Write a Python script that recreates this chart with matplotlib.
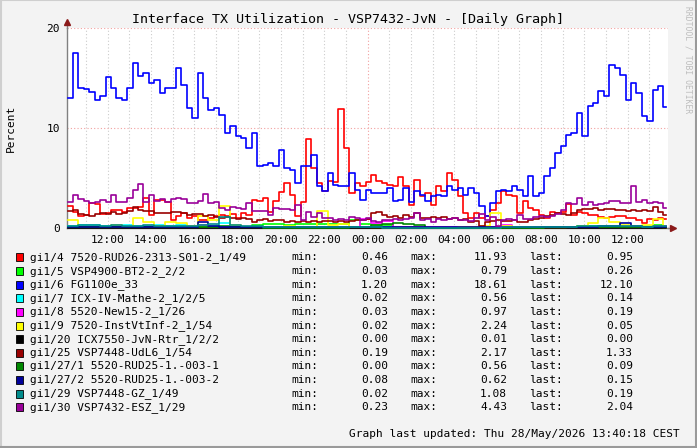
import numpy as np
import matplotlib
matplotlib.use("Agg")
import matplotlib.pyplot as plt
from matplotlib.patches import Rectangle
from matplotlib.lines import Line2D
from matplotlib.ticker import FixedLocator, FuncFormatter

W, H = 697, 448
MONO = "DejaVu Sans Mono"

# time in hours since midnight of the first day (24 = 00:00 next day)
t_start = 10.108
t_end = 37.86
t_data_end = 37.78
t15 = 10.15 + 0.25 * np.arange(111)   # 15 min samples, big series
t30 = 10.15 + 0.5 * np.arange(56)     # 30 min samples, small series

# ---- data (percent) ----
gi1_4 = [2.2, 1.6, 1.2, 1.3, 2.5, 2.4, 1.4, 1.5, 1.8, 1.8,
         1.6, 2.0, 2.0, 2.1, 3.0, 1.3, 2.8, 2.8, 2.6, 0.8,
         1.2, 1.5, 1.0, 1.2, 0.8, 0.8, 1.0, 1.2, 1.3,
         1.2, 1.4, 1.0, 1.5, 1.3, 2.8, 2.7, 3.0, 1.6, 2.7, 3.6,
         4.5, 3.3, 1.2, 2.6, 8.9, 6.0, 4.5, 3.7, 4.7, 4.6,
         11.9, 8.0, 3.5, 4.5, 4.2, 4.6, 5.3, 4.7, 4.5, 4.3,
         4.2, 5.1, 4.2, 2.3, 4.8, 3.2, 3.5, 2.3, 4.2, 3.7,
         5.5, 4.8, 3.2, 1.5, 1.0, 1.5, 1.0, 1.2, 1.8, 2.5,
         3.7, 3.3, 3.2, 1.5, 2.7, 2.0, 1.8, 1.3, 1.0, 1.6,
         1.5, 1.6, 2.4, 1.3, 1.6, 1.5, 1.3, 1.3, 1.1, 1.0,
         1.1, 1.2, 1.2, 1.0, 1.0, 0.8, 0.5, 0.9, 0.8, 1.0, 0.95]

gi1_6 = [13.0, 17.5, 14.0, 13.9, 13.6, 12.8, 13.2, 15.1, 14.0, 13.0,
         12.8, 14.0, 16.5, 15.2, 15.5, 14.5, 14.8, 13.5, 14.0, 14.0,
         16.0, 14.3, 12.0, 11.0, 15.5, 13.0, 11.8, 12.0, 11.3,
         9.5, 10.2, 9.2, 9.0, 8.0, 9.5, 6.2, 6.3, 6.5, 6.2, 7.8,
         6.0, 5.8, 4.5, 6.2, 6.2, 7.3, 4.2, 3.7, 5.5, 4.3,
         4.2, 4.2, 5.5, 3.8, 2.8, 3.8, 3.5, 3.5, 3.5, 4.0,
         2.7, 2.8, 4.0, 2.6, 3.7, 3.3, 2.7, 3.2, 3.3, 3.2,
         4.2, 3.8, 4.0, 3.3, 4.0, 3.5, 2.2, 1.2, 2.5, 3.7,
         3.8, 3.7, 4.2, 3.8, 3.2, 5.2, 3.2, 3.5, 5.2, 6.0,
         7.5, 8.2, 9.3, 9.5, 11.5, 9.2, 12.2, 12.5, 13.7, 13.2,
         16.3, 16.0, 15.3, 12.8, 14.5, 13.5, 11.2, 10.7, 13.8, 14.2, 12.1]

gi1_25 = [1.7, 1.8, 1.4, 1.3, 1.2, 1.4, 1.5, 1.4, 1.6, 1.4,
          1.5, 1.7, 2.17, 1.8, 1.7, 1.7, 1.5, 1.5, 1.5, 1.6,
          1.6, 1.5, 1.3, 1.4, 1.4, 1.2, 1.3, 1.1, 1.0,
          1.1, 1.0, 0.9, 1.0, 0.9, 0.6, 0.8, 0.9, 0.7, 0.8, 0.8,
          0.6, 0.7, 0.6, 0.7, 0.6, 0.7, 0.6, 0.7, 0.7, 0.6,
          0.7, 0.6, 0.7, 0.8, 0.8, 0.9, 1.5, 1.6, 1.3, 1.1,
          1.2, 1.0, 1.3, 1.1, 1.5, 1.0, 1.0, 1.1, 1.0, 1.1,
          0.9, 1.0, 0.8, 0.9, 0.6, 0.7, 0.2, 0.6, 0.7, 0.8,
          0.7, 0.7, 0.8, 0.6, 0.6, 0.8, 0.9, 1.0, 1.2, 1.3,
          1.5, 1.4, 1.3, 1.5, 1.8, 1.9, 1.9, 2.0, 1.8, 1.9,
          1.9, 1.8, 1.8, 1.7, 1.8, 1.7, 1.8, 1.7, 2.1, 1.6, 1.33]

gi1_30 = [2.6, 3.3, 2.9, 2.7, 2.5, 2.6, 2.8, 2.6, 3.3, 2.6,
          2.6, 3.0, 3.8, 4.43, 2.6, 3.3, 2.7, 2.9, 2.6, 2.9,
          3.0, 2.9, 2.5, 2.5, 2.7, 3.4, 2.5, 2.6, 2.0,
          1.8, 2.1, 2.0, 1.9, 2.5, 1.7, 1.7, 1.7, 1.3, 2.0, 1.9,
          1.9, 1.8, 2.3, 0.8, 1.6, 1.1, 1.5, 1.0, 1.0, 0.8,
          0.9, 0.8, 1.1, 1.0, 0.8, 1.0, 0.7, 0.6, 0.8, 0.8,
          0.9, 0.8, 0.9, 1.0, 1.5, 0.8, 0.9, 0.6, 0.9, 0.8,
          0.9, 1.0, 0.8, 0.8, 0.7, 1.0, 1.4, 0.8, 1.1, 0.25,
          0.8, 0.9, 0.8, 1.3, 0.9, 0.9, 1.1, 1.2, 1.1, 1.2,
          1.4, 1.8, 2.5, 2.4, 3.0, 2.3, 2.6, 2.3, 2.4, 2.5,
          2.7, 2.7, 2.5, 2.5, 4.2, 2.6, 2.8, 2.5, 2.6, 2.5, 2.04]

gi1_5 = [0.1, 0.1, 0.1, 0.15, 0.1, 0.1, 0.1, 0.1, 0.1, 0.1,
         0.1, 0.1, 0.1, 0.15, 0.1, 0.1, 0.1, 0.35, 0.4, 0.4,
         0.35, 0.4, 0.4, 0.45, 0.4, 0.4, 0.79, 0.4, 0.3, 0.3,
         0.1, 0.1, 0.05, 0.05, 0.05, 0.05, 0.05, 0.05, 0.05, 0.05,
         0.05, 0.1, 0.1, 0.1, 0.1, 0.15, 0.1, 0.2, 0.2, 0.2,
         0.25, 0.2, 0.2, 0.25, 0.3, 0.26]

gi1_7 = [0.2, 0.3, 0.3, 0.2, 0.2, 0.3, 0.2, 0.2, 0.3, 0.2,
         0.3, 0.2, 0.3, 0.2, 0.56, 0.2, 0.1, 0.1, 0.1, 0.1,
         0.1, 0.1, 0.1, 0.1, 0.1, 0.1, 0.1, 0.1, 0.1, 0.1,
         0.05, 0.05, 0.05, 0.05, 0.05, 0.05, 0.05, 0.05, 0.05, 0.05,
         0.05, 0.1, 0.1, 0.1, 0.1, 0.1, 0.15, 0.15, 0.2, 0.2,
         0.15, 0.2, 0.15, 0.2, 0.15, 0.14]

gi1_8 = [0.1, 0.1, 0.1, 0.1, 0.1, 0.15, 0.1, 0.1, 0.1, 0.1,
         0.1, 0.2, 0.3, 0.1, 0.1, 0.1, 0.1, 0.1, 0.1, 0.1,
         0.1, 0.1, 0.1, 0.1, 0.1, 0.1, 0.1, 0.97, 0.5, 0.7,
         0.1, 0.1, 0.1, 0.1, 0.1, 0.1, 0.1, 0.1, 0.1, 0.1,
         0.3, 0.1, 0.1, 0.1, 0.1, 0.1, 0.1, 0.1, 0.1, 0.1,
         0.15, 0.2, 0.1, 0.15, 0.2, 0.19]

gi1_9 = [0.8, 0.1, 0.1, 0.1, 0.3, 0.1, 1.0, 0.6, 0.2, 0.6,
         0.5, 0.2, 1.2, 0.8, 2.24, 0.3, 0.1, 0.1, 0.1, 0.1,
         0.2, 0.1, 0.1, 1.7, 0.3, 0.4, 0.1, 0.1, 0.05, 0.05,
         0.05, 0.05, 0.05, 0.05, 0.05, 0.05, 0.1, 0.1, 0.2, 1.5,
         0.2, 0.1, 0.1, 0.05, 0.05, 0.05, 0.1, 0.2, 0.5, 1.0,
         0.6, 0.3, 0.2, 0.3, 0.9, 0.05]

gi1_20 = [0.0, 0.0, 0.0, 0.0, 0.0, 0.0, 0.0, 0.0, 0.0, 0.0,
          0.0, 0.0, 0.01, 0.0, 0.0, 0.0, 0.0, 0.0, 0.0, 0.0,
          0.0, 0.0, 0.0, 0.0, 0.0, 0.0, 0.0, 0.0, 0.0, 0.0,
          0.0, 0.0, 0.0, 0.0, 0.0, 0.0, 0.0, 0.0, 0.0, 0.0,
          0.0, 0.0, 0.0, 0.0, 0.01, 0.0, 0.0, 0.0, 0.0, 0.0,
          0.0, 0.0, 0.0, 0.0, 0.0, 0.0]

gi1_27_1 = [0.1, 0.1, 0.15, 0.1, 0.1, 0.1, 0.1, 0.15, 0.1, 0.1,
            0.1, 0.1, 0.1, 0.1, 0.2, 0.1, 0.1, 0.1, 0.05, 0.05,
            0.05, 0.05, 0.05, 0.05, 0.05, 0.05, 0.1, 0.1, 0.3, 0.4,
            0.56, 0.4, 0.3, 0.05, 0.05, 0.0, 0.0, 0.05, 0.05, 0.05,
            0.05, 0.05, 0.05, 0.05, 0.1, 0.1, 0.1, 0.1, 0.1, 0.1,
            0.1, 0.1, 0.1, 0.1, 0.1, 0.09]

gi1_27_2 = [0.1, 0.15, 0.1, 0.1, 0.1, 0.15, 0.1, 0.1, 0.1, 0.1,
            0.15, 0.1, 0.62, 0.2, 0.1, 0.1, 0.1, 0.1, 0.1, 0.1,
            0.1, 0.1, 0.1, 0.1, 0.1, 0.1, 0.1, 0.1, 0.1, 0.1,
            0.08, 0.08, 0.1, 0.1, 0.1, 0.1, 0.1, 0.1, 0.1, 0.1,
            0.1, 0.1, 0.1, 0.1, 0.1, 0.1, 0.1, 0.15, 0.15, 0.2,
            0.2, 0.5, 0.2, 0.15, 0.15, 0.15]

gi1_29 = [0.2, 0.3, 0.3, 0.2, 0.3, 0.2, 0.2, 0.3, 0.2, 0.2,
          0.2, 0.2, 0.3, 0.4, 1.08, 0.3, 0.2, 0.2, 0.1, 0.1,
          0.1, 0.1, 0.1, 0.1, 0.1, 0.1, 0.1, 0.1, 0.1, 0.05,
          0.05, 0.05, 0.05, 0.05, 0.05, 0.05, 0.05, 0.05, 0.05, 0.05,
          0.1, 0.1, 0.1, 0.1, 0.1, 0.15, 0.15, 0.2, 0.2, 0.2,
          0.2, 0.2, 0.2, 0.15, 0.2, 0.19]

labels = ["gi1/4 7520-RUD26-2313-S01-2_1/49", "gi1/5 VSP4900-BT2-2_2/2",
          "gi1/6 FG1100e_33", "gi1/7 ICX-IV-Mathe-2_1/2/5",
          "gi1/8 5520-New15-2_1/26", "gi1/9 7520-InstVtInf-2_1/54",
          "gi1/20 ICX7550-JvN-Rtr_1/2/2", "gi1/25 VSP7448-UdL6_1/54",
          "gi1/27/1 5520-RUD25-1.-003-1", "gi1/27/2 5520-RUD25-1.-003-2",
          "gi1/29 VSP7448-GZ_1/49", "gi1/30 VSP7432-ESZ_1/29"]
colors = ["#FF0000", "#00FF00", "#0000FF", "#00FFFF", "#FF00FF", "#FFFF00",
          "#000000", "#990000", "#008800", "#000099", "#008B8B", "#990099"]
leg_min = [0.46, 0.03, 1.20, 0.02, 0.03, 0.02, 0.00, 0.19, 0.00, 0.08, 0.02, 0.23]
leg_max = [11.93, 0.79, 18.61, 0.56, 0.97, 2.24, 0.01, 2.17, 0.56, 0.62, 1.08, 4.43]
leg_last = [0.95, 0.26, 12.10, 0.14, 0.19, 0.05, 0.00, 1.33, 0.09, 0.15, 0.19, 2.04]

series = [(t15, gi1_4), (t30, gi1_5), (t15, gi1_6), (t30, gi1_7), (t30, gi1_8),
          (t30, gi1_9), (t30, gi1_20), (t15, gi1_25), (t30, gi1_27_1),
          (t30, gi1_27_2), (t30, gi1_29), (t15, gi1_30)]


def fx(x):
    return x / W


def fy(y):
    return 1 - y / H


fig = plt.figure(figsize=(W / 100, H / 100), dpi=100, facecolor="#F3F3F3")

# frame around the canvas
fig.add_artist(Line2D([0, 1], [fy(0.5), fy(0.5)], color="#CFCFCF", lw=1.5))
fig.add_artist(Line2D([fx(0.5), fx(0.5)], [0, 1], color="#CFCFCF", lw=1.5))
fig.add_artist(Line2D([0, 1], [fy(447), fy(447)], color="#9A9A9A", lw=1.5))
fig.add_artist(Line2D([fx(696), fx(696)], [0, 1], color="#9A9A9A", lw=1.5))

ax = fig.add_axes([fx(66.7), fy(228.3), fx(668) - fx(66.7), 200 / H])
ax.set_facecolor("white")
ax.set_xlim(t_start, t_end)
ax.set_ylim(0, 20)

# grid
for h in range(11, 38):
    c = "#F2A0A0" if h == 24 else "#CCCCCC"
    ax.axvline(h, color=c, lw=0.8, ls=(0, (1, 2)), zorder=1)
for v in (10, 20):
    ax.axhline(v, color="#F2A0A0", lw=0.8, ls=(0, (1, 2)), zorder=1)

for (tt, vals), c in zip(series, colors):
    xs = np.append(tt, t_data_end)
    ys = np.append(vals, vals[-1])
    ax.plot(xs, ys, drawstyle="steps-post", color=c, lw=1.2, zorder=3, clip_on=False)

for s in ("top", "right"):
    ax.spines[s].set_visible(False)
for s in ("left", "bottom"):
    ax.spines[s].set_color("#808080")
    ax.spines[s].set_linewidth(1.0)
    ax.spines[s].set_zorder(2)

ax.xaxis.set_major_locator(FixedLocator(list(range(12, 38, 2))))
ax.xaxis.set_major_formatter(FuncFormatter(lambda h, p: f"{int(round(h)) % 24:02d}:00"))
ax.yaxis.set_major_locator(FixedLocator([0, 10, 20]))
ax.yaxis.set_major_formatter(FuncFormatter(lambda v, p: f"{v:.0f}"))
ax.tick_params(length=0, labelsize=8, colors="#000000", pad=5)
for lab in ax.get_xticklabels() + ax.get_yticklabels():
    lab.set_family(MONO)

# axis arrows
ax.plot([0, 0], [1.0, 1.03], transform=ax.transAxes, color="#808080", lw=1, clip_on=False)
ax.plot([1.0, 1.008], [0, 0], transform=ax.transAxes, color="#808080", lw=1, clip_on=False)
ax.plot([0], [1.03], marker="^", ms=5, color="#8B1A1A", transform=ax.transAxes, clip_on=False)
ax.plot([1.008], [0], marker=">", ms=5, color="#8B1A1A", transform=ax.transAxes, clip_on=False)

# texts
fig.text(fx(348), fy(19), "Interface TX Utilization - VSP7432-JvN - [Daily Graph]",
         family=MONO, fontsize=9.6, ha="center", va="center")
fig.text(fx(11), fy(128), "Percent", family=MONO, fontsize=8, rotation=90,
         ha="center", va="center")
fig.text(fx(688), fy(60), "RRDTOOL / TOBI OETIKER", family=MONO, fontsize=5.8,
         rotation=270, ha="center", va="center", color="#BDBDBD")

row0 = 257.5
for k, lab in enumerate(labels):
    yc = row0 + 13.6 * k
    fig.add_artist(Rectangle((fx(15.5), fy(yc + 4)), 7 / W, 8 / H,
                             facecolor=colors[k], edgecolor="black", lw=0.6))
    fig.text(fx(30), fy(yc), lab, family=MONO, fontsize=8, va="center", ha="left")
    fig.text(fx(291), fy(yc), "min:", family=MONO, fontsize=8, va="center")
    fig.text(fx(388), fy(yc), f"{leg_min[k]:.2f}", family=MONO, fontsize=8,
             va="center", ha="right")
    fig.text(fx(410), fy(yc), "max:", family=MONO, fontsize=8, va="center")
    fig.text(fx(507), fy(yc), f"{leg_max[k]:.2f}", family=MONO, fontsize=8,
             va="center", ha="right")
    fig.text(fx(529), fy(yc), "last:", family=MONO, fontsize=8, va="center")
    fig.text(fx(633), fy(yc), f"{leg_last[k]:.2f}", family=MONO, fontsize=8,
             va="center", ha="right")

fig.text(fx(680), fy(434), "Graph last updated: Thu 28/May/2026 13:40:18 CEST",
         family=MONO, fontsize=8, va="center", ha="right")

fig.savefig("out.png", dpi=100, facecolor=fig.get_facecolor())
